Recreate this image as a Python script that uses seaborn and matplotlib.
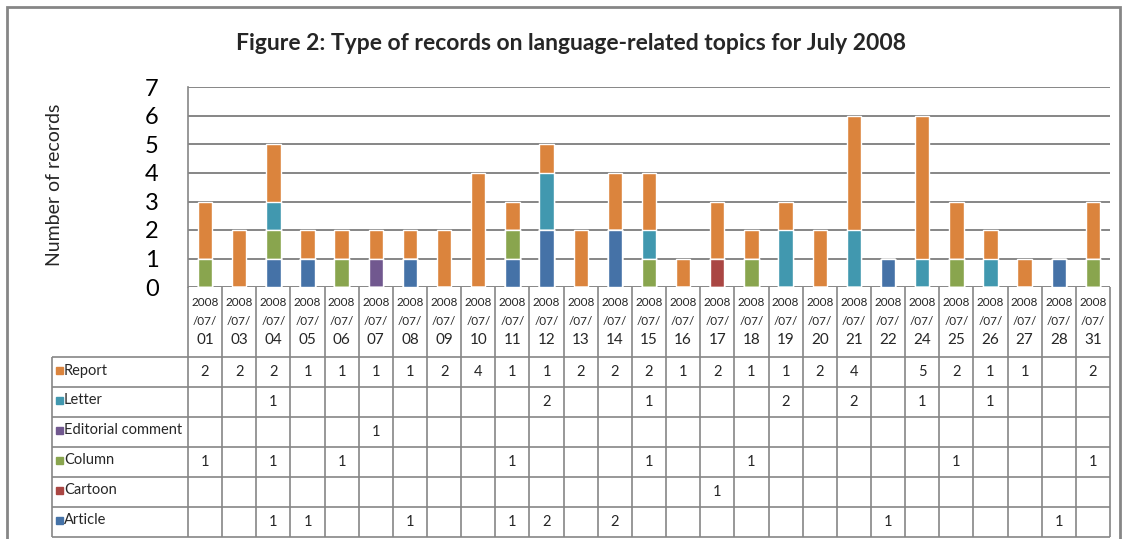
import numpy as np
import pandas as pd
import seaborn as sns
import matplotlib.pyplot as plt
from matplotlib.patches import Rectangle

days = ["01", "03", "04", "05", "06", "07", "08", "09", "10", "11", "12", "13", "14", "15",
        "16", "17", "18", "19", "20", "21", "22", "24", "25", "26", "27", "28", "31"]
article   = [0, 0, 1, 1, 0, 0, 1, 0, 0, 1, 2, 0, 2, 0, 0, 0, 0, 0, 0, 0, 1, 0, 0, 0, 0, 1, 0]
cartoon   = [0, 0, 0, 0, 0, 0, 0, 0, 0, 0, 0, 0, 0, 0, 0, 1, 0, 0, 0, 0, 0, 0, 0, 0, 0, 0, 0]
column    = [1, 0, 1, 0, 1, 0, 0, 0, 0, 1, 0, 0, 0, 1, 0, 0, 1, 0, 0, 0, 0, 0, 1, 0, 0, 0, 1]
editorial = [0, 0, 0, 0, 0, 1, 0, 0, 0, 0, 0, 0, 0, 0, 0, 0, 0, 0, 0, 0, 0, 0, 0, 0, 0, 0, 0]
letter    = [0, 0, 1, 0, 0, 0, 0, 0, 0, 0, 2, 0, 0, 1, 0, 0, 0, 2, 0, 2, 0, 1, 0, 1, 0, 0, 0]
report    = [2, 2, 2, 1, 1, 1, 1, 2, 4, 1, 1, 2, 2, 2, 1, 2, 1, 1, 2, 4, 0, 5, 2, 1, 1, 0, 2]

# stacking order, bottom to top
series = ["Article", "Cartoon", "Column", "Editorial comment", "Letter", "Report"]
values = [article, cartoon, column, editorial, letter, report]
colors = ["#4572A7", "#AA4643", "#89A54E", "#71588F", "#4198AF", "#DB843D"]

sns.set_theme(style="white")
plt.rcParams['font.family'] = ['Lato', 'DejaVu Sans']

W, H = 1126, 539
fig = plt.figure(figsize=(W / 100, H / 100), dpi=100)
fx = lambda px: px / W
fy = lambda py: 1 - py / H
gray = "#868686"

# outer chart border
fig.add_artist(Rectangle((fx(7), fy(560)), fx(1120) - fx(7), (560 - 7) / H,
                         transform=fig.transFigure, fill=False, ec=gray, lw=2, clip_on=False))

fig.text(fx(571), fy(44), "Figure 2: Type of records on language-related topics for July 2008",
         ha="center", va="center", fontsize=16.5, fontweight="bold")
fig.text(fx(55), fy(185), "Number of records", rotation=90, ha="center", va="center",
         fontsize=14)

ax = fig.add_axes([fx(188), fy(287), fx(1110) - fx(188), (287 - 87.5) / H])

# stacked bars: draw cumulative totals from the top series down
cum = np.cumsum(np.array(values), axis=0)
for k in range(len(series) - 1, -1, -1):
    df = pd.DataFrame({"day": days, "n": cum[k]})
    sns.barplot(data=df, x="day", y="n", order=days, color=colors[k], width=0.42,
                saturation=1, errorbar=None, ax=ax)

ax.set_xlim(-0.5, len(days) - 0.5)
ax.set_ylim(0, 7)
ax.set_yticks(range(8))
ax.tick_params(axis="y", length=0, pad=21, labelsize=17, labelcolor="black")
ax.set_xticks([])
ax.set_xlabel("")
ax.set_ylabel("")
ax.yaxis.grid(True, color=gray, lw=1.4)
ax.set_axisbelow(True)
for s in ["top", "right", "bottom"]:
    ax.spines[s].set_visible(False)
ax.spines["left"].set_color(gray)
ax.spines["left"].set_linewidth(1.2)

# data table underneath
cat_w = (1110 - 188) / len(days)
x_left = -0.5 - (188 - 52) / cat_w
head = 70 / 30
tax = fig.add_axes([fx(52), fy(537), fx(1110) - fx(52), (537 - 287) / H])
tax.set_xlim(x_left, len(days) - 0.5)
tax.set_ylim(6, -head)
tax.axis("off")

tax.vlines(np.arange(len(days) + 1) - 0.5, -head, 6, color=gray, lw=1.2, clip_on=False)
tax.vlines([x_left], 0, 6, color=gray, lw=1.2, clip_on=False)
tax.hlines(np.arange(7), x_left, len(days) - 0.5, color=gray, lw=1.2, clip_on=False)

for i, d in enumerate(days):
    tax.text(i, -1.8, "2008", ha="center", va="center", fontsize=8.5)
    tax.text(i, -1.17, "/07/", ha="center", va="center", fontsize=8.5)
    tax.text(i, -0.57, d, ha="center", va="center", fontsize=11)

rows = list(range(len(series) - 1, -1, -1))
for r, k in enumerate(rows):
    tax.add_patch(Rectangle((x_left + 4 / cat_w, r + 0.32), 7 / cat_w, 7 / 30,
                            color=colors[k], clip_on=False))
    tax.text(x_left + 12 / cat_w, r + 0.45, series[k], ha="left", va="center", fontsize=10.5)
    for i, v in enumerate(values[k]):
        if v:
            tax.text(i, r + 0.5, str(v), ha="center", va="center", fontsize=10.5)

fig.savefig("out.png", dpi=100)
